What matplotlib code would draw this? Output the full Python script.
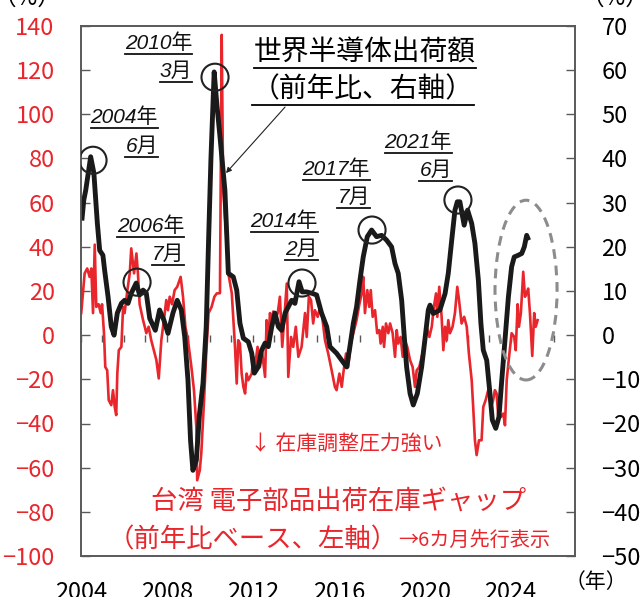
import matplotlib
matplotlib.use('Agg')
import matplotlib.pyplot as plt
import numpy as np
from matplotlib.patches import Ellipse
from matplotlib.lines import Line2D

plt.rcParams['font.family'] = ['Noto Sans CJK JP', 'DejaVu Sans']

# 世界半導体出荷額（前年比、%、右軸）
semi_x = [2004.05, 2004.13, 2004.22, 2004.45, 2004.6, 2004.76, 2004.87, 2005.02, 2005.1, 2005.26,
          2005.41, 2005.54, 2005.69, 2005.88, 2006.03, 2006.19, 2006.34, 2006.57, 2006.73, 2006.89,
          2007.04, 2007.2, 2007.46, 2007.66, 2007.86, 2008.05, 2008.28, 2008.48, 2008.67, 2008.83,
          2008.98, 2009.1, 2009.21, 2009.37, 2009.52, 2009.68, 2009.83, 2009.94, 2010.05, 2010.2,
          2010.33, 2010.47, 2010.7, 2010.86, 2011.09, 2011.25, 2011.4, 2011.56, 2011.79, 2011.95,
          2012.07, 2012.25, 2012.41, 2012.57, 2012.72, 2012.88, 2013.03, 2013.19, 2013.34, 2013.5,
          2013.65, 2013.81, 2013.96, 2014.15, 2014.3, 2014.5, 2014.74, 2014.97, 2015.2, 2015.44,
          2015.59, 2015.9, 2016.14, 2016.37, 2016.52, 2016.68, 2016.83, 2016.99, 2017.14, 2017.33,
          2017.53, 2017.76, 2018.0, 2018.23, 2018.46, 2018.62, 2018.77, 2018.93, 2019.04, 2019.16,
          2019.32, 2019.47, 2019.66, 2019.86, 2020.01, 2020.17, 2020.25, 2020.4, 2020.71, 2020.95,
          2021.1, 2021.26, 2021.41, 2021.52, 2021.64, 2021.84, 2022.0, 2022.19, 2022.34, 2022.5,
          2022.62, 2022.73, 2022.89, 2023.04, 2023.15, 2023.31, 2023.46, 2023.59, 2023.74, 2023.9,
          2024.05, 2024.17, 2024.36, 2024.52, 2024.64, 2024.75, 2024.8]
semi_y = [26.5, 30.6, 32.8, 40.4, 36.7, 25.4, 19.2, 18.1, 14.7, 8.7,
          1.9, 0.0, 5.0, 7.2, 7.9, 7.2, 9.5, 11.8, 9.1, 10.2,
          9.5, 3.8, 1.1, 5.7, 3.4, 0.4, 5.0, 7.9, 5.7, -0.4,
          -10.2, -23.8, -30.6, -28.3, -17.7, -10.9, 1.9, 21.5, 40.0, 59.6,
          52.0, 45.0, 32.8, 14.0, 13.2, 10.2, 2.7, -0.7, -1.5, -4.1,
          -8.6, -7.2, -3.4, -1.8, -2.6, 1.9, 5.0, 1.9, 1.1, 5.0,
          6.4, 7.9, 7.2, 12.1, 9.8, 9.8, 9.5, 9.1, 5.0, 1.9,
          -2.6, -4.1, -5.7, -7.2, -2.6, 2.7, 6.4, 12.5, 17.7, 22.3,
          23.8, 22.3, 22.6, 21.5, 20.0, 16.2, 14.0, 7.9, 0.4, -7.2,
          -13.2, -15.8, -13.2, -7.2, -1.1, 5.7, 6.8, 4.9, 5.7, 9.4,
          14.0, 21.5, 28.3, 30.2, 30.2, 24.9, 28.3, 25.3, 20.8, 12.5,
          2.6, -3.4, -5.7, -13.2, -19.2, -21.1, -18.5, -10.2, -1.1, 8.7,
          15.5, 17.7, 18.1, 18.5, 20.0, 22.6, 22.0]

# 台湾 電子部品出荷在庫ギャップ（前年比ベース、%、左軸、6カ月先行）
gap_x = [2004.01, 2004.17, 2004.29, 2004.4, 2004.48, 2004.56, 2004.64, 2004.71, 2004.82, 2004.92,
         2004.98, 2005.07, 2005.13, 2005.22, 2005.29, 2005.41, 2005.49, 2005.57, 2005.64, 2005.69,
         2005.76, 2005.88, 2005.96, 2006.03, 2006.16, 2006.27, 2006.34, 2006.47, 2006.58, 2006.65,
         2006.73, 2006.89, 2006.97, 2007.04, 2007.15, 2007.27, 2007.43, 2007.51, 2007.62, 2007.74,
         2007.86, 2007.97, 2008.05, 2008.13, 2008.24, 2008.36, 2008.48, 2008.64, 2008.75, 2008.86,
         2008.98, 2009.14, 2009.26, 2009.37, 2009.41, 2009.53, 2009.6, 2009.73, 2009.83, 2009.94,
         2010.08, 2010.21, 2010.32, 2010.47, 2010.55, 2010.62, 2010.78, 2010.86, 2011.02, 2011.17,
         2011.25, 2011.32, 2011.4, 2011.48, 2011.56, 2011.64, 2011.71, 2011.79, 2011.95, 2012.02,
         2012.1, 2012.22, 2012.33, 2012.44, 2012.57, 2012.64, 2012.72, 2012.8, 2012.88, 2012.95,
         2013.03, 2013.16, 2013.26, 2013.37, 2013.47, 2013.58, 2013.65, 2013.78, 2013.88, 2014.0,
         2014.12, 2014.27, 2014.43, 2014.51, 2014.61, 2014.71, 2014.81, 2014.89, 2015.02, 2015.13,
         2015.23, 2015.36, 2015.51, 2015.67, 2015.82, 2015.9, 2016.03, 2016.14, 2016.21, 2016.34,
         2016.44, 2016.56, 2016.68, 2016.83, 2016.96, 2017.07, 2017.14, 2017.22, 2017.33, 2017.42,
         2017.49, 2017.58, 2017.69, 2017.79, 2017.89, 2017.95, 2018.05, 2018.11, 2018.2, 2018.31,
         2018.39, 2018.51, 2018.62, 2018.7, 2018.77, 2018.88, 2018.98, 2019.08, 2019.19, 2019.32,
         2019.44, 2019.55, 2019.63, 2019.75, 2019.86, 2019.97, 2020.09, 2020.22, 2020.33, 2020.43,
         2020.53, 2020.59, 2020.68, 2020.79, 2020.87, 2020.95, 2021.03, 2021.1, 2021.18, 2021.3,
         2021.41, 2021.52, 2021.6, 2021.72, 2021.84, 2021.96, 2022.06, 2022.19, 2022.26, 2022.34,
         2022.42, 2022.53, 2022.65, 2022.73, 2022.84, 2022.96, 2023.09, 2023.19, 2023.27, 2023.35,
         2023.43, 2023.55, 2023.66, 2023.74, 2023.82, 2023.93, 2024.05, 2024.17, 2024.24, 2024.33,
         2024.39, 2024.48, 2024.59, 2024.67, 2024.75, 2024.82, 2024.9, 2025.01, 2025.1, 2025.17,
         2025.26]
gap_y = [10.0, 28.0, 30.2, 26.4, 30.2, 10.0, 41.0, 12.8, 14.0, 10.0,
         14.0, 0.9, -14.4, -15.9, -29.4, -31.7, -24.9, -32.5, -36.2, -17.4,
         -6.8, -5.3, 12.8, 10.0, 20.4, 28.0, 39.3, 28.0, 37.0, 28.0,
         14.0, 6.8, 3.8, 0.9, 3.8, -2.3, -8.3, -11.3, -19.6, -2.3,
         6.8, 15.9, 11.3, 17.4, 14.0, 20.4, 21.9, 26.4, 17.4, 3.8,
         -2.3, -14.4, -24.9, -41.5, -65.7, -61.2, -53.6, -29.4, -8.3, 10.0,
         12.8, 17.4, 18.9, 19.0, 136.0, 65.7, 43.0, 28.0, 19.0, -5.3,
         -21.9, -2.3, -3.8, -17.4, -23.4, -26.4, -17.4, -20.4, -17.4, -9.8,
         -14.4, -5.3, -14.4, -8.3, -18.9, 6.8, -2.3, 10.0, 3.8, 10.7,
         6.8, 10.0, 17.4, -5.3, 8.3, 23.4, -18.9, -0.8, -5.3, 3.8,
         -9.8, -5.3, 10.0, -0.8, 17.4, 15.9, 5.3, 11.3, 8.3, 12.8,
         8.3, -2.3, -8.3, -15.9, -23.4, -24.9, -17.4, -23.4, -17.4, -8.3,
         -14.4, -3.8, 0.9, 6.8, 14.0, 18.9, 26.4, 10.0, 20.4, 12.8,
         20.4, 8.3, 11.3, 0.9, 2.3, -3.8, 3.8, -5.3, 5.3, 0.9,
         5.3, 0.9, -9.8, 2.3, -3.8, -0.8, -9.8, -2.3, -5.3, -11.3,
         -14.4, -23.4, -15.9, -14.4, -9.8, -5.3, 3.8, -0.8, 3.8, 12.8,
         18.9, 8.3, 21.9, 8.3, -6.8, 3.8, -2.3, 6.8, 0.9, 3.8,
         10.0, 21.9, 15.9, 5.3, 8.3, 3.8, -8.3, -20.4, -32.5, -47.6,
         -54.3, -47.6, -47.6, -32.5, -29.4, -24.9, -32.5, -29.4, -24.9, -26.4,
         -37.0, -37.0, -35.5, -40.8, -20.4, -9.8, 0.9, -0.8, -6.8, 14.0,
         3.8, 10.0, 28.7, 17.4, 18.9, 21.1, 10.3, -9.4, 10.0, 3.8,
         6.8]

# 丸で囲んだピーク（右軸）
peak_x = [2004.56, 2006.61, 2010.24, 2014.29, 2017.55, 2021.55]
peak_y = [39.6, 12.0, 58.4, 11.8, 23.8, 30.6]
peak_year = ['2004年', '2006年', '2010年', '2014年', '2017年', '2021年']
peak_month = ['6月', '7月', '3月', '2月', '7月', '6月']

year_ticks = np.arange(2004, 2025, 4)
year_minor = np.arange(2004, 2027)

RED = '#E8262C'
FRAME = '#595959'

fig = plt.figure(figsize=(6.4, 5.97), dpi=100)
ax = fig.add_axes([81 / 640, 1 - 556 / 597, 494 / 640, 530 / 597])
ax2 = ax.twinx()

ax.plot(gap_x, gap_y, color=RED, lw=1.9)
ax2.plot(semi_x, semi_y, color='#1a1a1a', lw=3.5, solid_joinstyle='round')

ax.set_xlim(2004, 2027)
ax.set_ylim(-100, 140)
ax2.set_ylim(-50, 70)
ax.set_yticks(np.arange(-100, 141, 20))
ax2.set_yticks(np.arange(-50, 71, 10))
ax.set_xticks(year_ticks)
ax.set_xticklabels([str(y) for y in year_ticks])

ax.tick_params(axis='y', direction='in', length=6.5, width=1, color=FRAME,
               labelcolor=RED, labelsize=17, pad=19)
ax2.tick_params(axis='y', direction='in', length=6.5, width=1, color=FRAME,
                labelcolor='black', labelsize=17, pad=19)
ax.tick_params(axis='x', length=0, labelsize=17, pad=18)
for a in (ax, ax2):
    for s in a.spines.values():
        s.set_color(FRAME)
        s.set_linewidth(1.2)

# ゼロ線の目盛り（毎年）
zero_pos = (0 - (-100)) / 240
sec = ax.secondary_xaxis(zero_pos)
sec.set_xticks(year_minor)
sec.tick_params(axis='x', length=5, width=1, color=FRAME, labeltop=False, labelbottom=False)
sec.spines['top'].set_color(FRAME)
sec.spines['top'].set_linewidth(1.2)
sec.spines['bottom'].set_visible(False)

# ピークの丸
ax2.scatter(peak_x, peak_y, s=380, facecolors='none', edgecolors='#222222', linewidths=1.5, zorder=5)

# 点線の楕円
ax2.add_patch(Ellipse((2024.72, 10.2), 2.89, 40.7, fill=False, edgecolor='#8c8c8c',
                      lw=2.2, ls=(0, (3.2, 2.2)), zorder=4))

underlined = []

date_pos = [(2007.58, 98.7, 85.6), (2008.8, 49.4, 36.7), (2009.17, 132.2, 119.6),
            (2015.03, 51.6, 38.9), (2017.45, 75.2, 62.5), (2021.27, 87.4, 74.7)]
for (xr, y1, y2), yl, ml in zip(date_pos, peak_year, peak_month):
    for yy, lab in ((y1, yl), (y2, ml)):
        t = ax.text(xr, yy, lab, ha='right', va='center', fontsize=15, style='italic',
                    family=['Liberation Sans', 'Noto Sans CJK JP'], color='#111111')
        underlined.append((t, '#111111'))

t = ax.text(2017.22, 128.2, '世界半導体出荷額', ha='center', va='center', fontsize=20)
underlined.append((t, 'black'))
t = ax.text(2017.13, 111.4, '（前年比、右軸）', ha='center', va='center', fontsize=20)
underlined.append((t, 'black'))

ax.annotate('', xy=(2010.75, 73.4), xytext=(2013.5, 103.3),
            arrowprops=dict(arrowstyle='-|>', color='#222222', lw=0.8, mutation_scale=8,
                            shrinkA=0, shrinkB=0))

ax.text(2016.36, -49.4, '↓ 在庫調整圧力強い', ha='center', va='center', fontsize=15, color=RED,
        style='italic')
ax.text(2015.99, -75.2, '台湾 電子部品出荷在庫ギャップ', ha='center', va='center', fontsize=19, color=RED)
ax.text(2012.0, -92.8, '（前年比ベース、左軸）', ha='center', va='center', fontsize=19, color=RED)
ax.text(2018.76, -92.8, '→6カ月先行表示', ha='left', va='center', fontsize=14.5, color=RED,
        style='italic')

fig.text(27 / 640, 1.003, '（%）', ha='center', va='center', fontsize=17)
fig.text(615 / 640, 1.003, '（%）', ha='center', va='center', fontsize=17)
fig.text(596 / 640, 1 - 582 / 597, '（年）', ha='center', va='center', fontsize=15)

# 下線
fig.canvas.draw()
renderer = fig.canvas.get_renderer()
inv = fig.transFigure.inverted()
for t, c in underlined:
    bb = t.get_window_extent(renderer)
    (x0, y0), (x1, _) = inv.transform([(bb.x0, bb.y0 - 1), (bb.x1, bb.y0)])
    fig.add_artist(Line2D([x0, x1], [y0, y0], color=c, lw=1.3, transform=fig.transFigure))

fig.savefig('out.png', dpi=100)
